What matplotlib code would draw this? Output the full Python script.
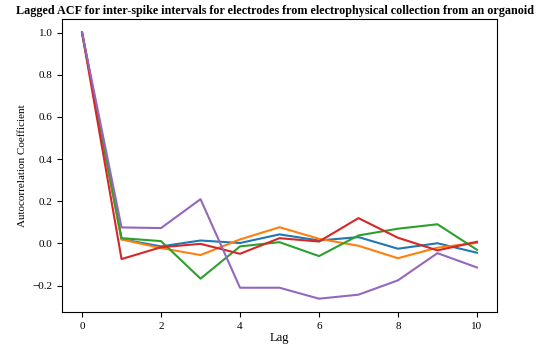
import matplotlib
matplotlib.use("Agg")
import matplotlib.pyplot as plt

plt.rcParams['font.family'] = ['Liberation Serif', 'DejaVu Serif']

lags = list(range(11))
electrode_1 = [1.0, 0.020, -0.014, 0.014, 0.002, 0.043, 0.014, 0.030, -0.025, 0.001, -0.044]
electrode_2 = [1.0, 0.019, -0.022, -0.055, 0.019, 0.077, 0.022, -0.011, -0.070, -0.020, 0.003]
electrode_3 = [1.0, 0.025, 0.011, -0.167, -0.014, 0.006, -0.060, 0.038, 0.070, 0.091, -0.030]
electrode_4 = [1.0, -0.074, -0.018, -0.002, -0.049, 0.025, 0.009, 0.120, 0.027, -0.033, 0.008]
electrode_5 = [1.0, 0.076, 0.073, 0.210, -0.210, -0.210, -0.262, -0.243, -0.175, -0.046, -0.114]

series = [electrode_1, electrode_2, electrode_3, electrode_4, electrode_5]
colors = ['#1f77b4', '#ff7f0e', '#2ca02c', '#d62728', '#9467bd']

fig = plt.figure(figsize=(5.39, 3.46), dpi=100)
ax = fig.add_axes([0.1156, 0.0983, 0.8059, 0.8459])
for s, c in zip(series, colors):
    ax.plot(lags, s, color=c, linewidth=1.5)

ax.set_title('Lagged ACF for inter-spike intervals for electrodes from electrophysical collection from an organoid',
             fontsize=8.7, fontweight='bold', pad=4, x=0.49)
ax.set_xlabel('Lag', fontsize=9, labelpad=1)
ax.set_ylabel('Autocorrelation Coefficient', fontsize=8)
ax.tick_params(labelsize=8)
fig.savefig('out.png', dpi=100)
